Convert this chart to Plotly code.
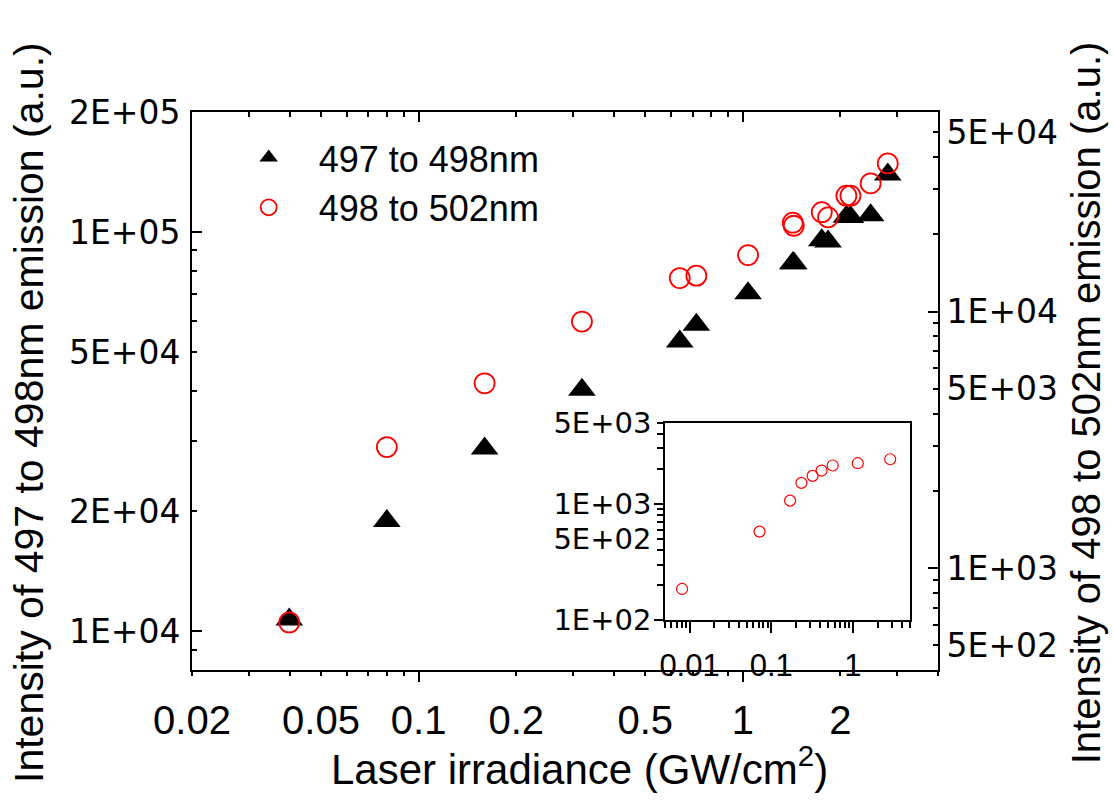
import math
import plotly.graph_objects as go

# ---------------- data ----------------
irradiance = [0.0399, 0.0798, 0.1598, 0.319, 0.639, 0.719, 1.038, 1.426, 1.436,
              1.752, 1.832, 2.087, 2.148, 2.479, 2.80]
i_497_498 = [10700, 18900, 28700, 40300, 53200, 58600, 70300, 83600, 83600,
             95500, 94800, 109300, 109200, 110300, 139500]
i_498_502 = [613, 2960, 5250, 9140, 13500, 13800, 16600, 22200, 21600,
             24400, 23300, 28300, 28300, 31600, 37800]

inset_irradiance = [0.0081, 0.0719, 0.170, 0.234, 0.321, 0.413, 0.565, 1.146, 2.86]
inset_intensity = [185, 577, 1067, 1517, 1743, 1936, 2139, 2240, 2422]

x_tick_vals = [0.02, 0.05, 0.1, 0.2, 0.5, 1, 2]
x_tick_text = ["0.02", "0.05", "0.1", "0.2", "0.5", "1", "2"]
yl_tick_vals = [1e4, 2e4, 5e4, 1e5, 2e5]
yr_tick_vals = [5e2, 1e3, 5e3, 1e4, 5e4]
inset_x_vals = [0.01, 0.1, 1]
inset_x_text = ["0.01", "0.1", "1"]
inset_y_vals = [1e2, 5e2, 1e3, 5e3]

series_names = ["497 to 498nm", "498 to 502nm"]

# ---------------- helpers ----------------
def etext(vals):
    return [format(v, ".0E") for v in vals]

def log_grid(lo, hi):
    out = []
    for e in range(-4, 7):
        for m in range(1, 10):
            v = m * 10.0 ** e
            if lo * 0.999 <= v <= hi * 1.001:
                out.append(float("%.6g" % v))
    return out

def minus(a, b):
    return [v for v in a if all(abs(v - w) / w > 1e-6 for w in b)]

def decades(vals):
    return [v for v in vals if abs(math.log10(v) - round(math.log10(v))) < 1e-6]

LF = "Liberation Sans, Arial, sans-serif"
DF = "DejaVu Sans, sans-serif"
K = "black"

XR = (0.02, 4.0)
YLR = (8000, 2e5)
YRR = (400, 6e4)
IXR = (0.005, 5.0)
IYR = (100, 5000)

def lr(r):
    return [math.log10(r[0]), math.log10(r[1])]

x_all = log_grid(*XR)
yl_all = log_grid(*YLR)
yr_all = log_grid(*YRR)
ix_all = log_grid(*IXR)
iy_all = log_grid(*IYR)

fig = go.Figure()

# main data
fig.add_trace(go.Scatter(
    x=irradiance, y=i_497_498, mode="markers", name="\u00a0\u00a0\u00a0" + series_names[0],
    marker=dict(symbol="triangle-up", size=24, color=K, line=dict(width=0)),
    xaxis="x", yaxis="y"))
fig.add_trace(go.Scatter(
    x=irradiance, y=i_498_502, mode="markers", name="\u00a0\u00a0\u00a0" + series_names[1],
    marker=dict(symbol="circle-open", size=20, color="#ff0000", line=dict(width=1.8, color="#ff0000")),
    xaxis="x", yaxis="y2"))

# inset data
fig.add_trace(go.Scatter(
    x=inset_irradiance, y=inset_intensity, mode="markers", showlegend=False,
    marker=dict(symbol="circle-open", size=11, color="#ff0000", line=dict(width=1.2, color="#ff0000")),
    xaxis="x2", yaxis="y3"))

# invisible helpers so the tick-only overlay axes are drawn
for xa, ya in [("x3", "y"), ("x4", "y"), ("x", "y4"), ("x", "y5"), ("x2", "y6")]:
    fig.add_trace(go.Scatter(x=irradiance, y=i_497_498, mode="markers", showlegend=False,
                             hoverinfo="skip", marker=dict(opacity=0), xaxis=xa, yaxis=ya))

common = dict(type="log", showgrid=False, zeroline=False, tickcolor=K, tickwidth=1.5)

fig.update_layout(
    width=1114, height=803,
    margin=dict(l=192, r=176, t=112, b=133),
    paper_bgcolor="white", plot_bgcolor="white",
    font=dict(family=LF, color=K),
    showlegend=True,
    legend=dict(x=0.076, y=0.972, xanchor="left", yanchor="top",
                font=dict(family=LF, size=36, color=K), bgcolor="rgba(0,0,0,0)",
                itemclick=False),
    # main bottom x
    xaxis=dict(**common, range=lr(XR), domain=[0, 1], anchor="y",
               showline=True, linewidth=2, linecolor=K, mirror=True,
               ticks="outside", ticklen=4, tickmode="array",
               tickvals=x_tick_vals, ticktext=x_tick_text,
               tickfont=dict(family=LF, size=40, color=K), ticklabelstandoff=10,
               minor=dict(tickmode="array", tickvals=minus(x_all, x_tick_vals),
                          ticks="outside", ticklen=4, tickwidth=1.5, tickcolor=K)),
    # top ticks (inside)
    xaxis3=dict(**common, range=lr(XR), overlaying="x", side="top", anchor="y",
                showline=False, showticklabels=False, ticks="inside", ticklen=10,
                tickmode="array", tickvals=decades(x_all),
                minor=dict(tickmode="array", tickvals=minus(x_all, decades(x_all)),
                           ticks="inside", ticklen=5, tickwidth=1.5, tickcolor=K)),
    # long decade ticks at bottom
    xaxis4=dict(**common, range=lr(XR), overlaying="x", side="bottom", anchor="y",
                showline=False, showticklabels=False, ticks="outside", ticklen=11,
                tickmode="array", tickvals=decades(x_all)),
    # left y
    yaxis=dict(**common, range=lr(YLR), domain=[0, 1], anchor="x", side="left",
               showline=True, linewidth=2, linecolor=K, mirror=False,
               ticks="inside", ticklen=5, tickmode="array",
               tickvals=yl_tick_vals, ticktext=etext(yl_tick_vals),
               tickfont=dict(family=DF, size=33, color=K), ticklabelstandoff=3,
               minor=dict(tickmode="array", tickvals=minus(yl_all, yl_tick_vals),
                          ticks="inside", ticklen=5, tickwidth=1.5, tickcolor=K)),
    yaxis4=dict(**common, range=lr(YLR), overlaying="y", side="left", anchor="x",
                showline=False, showticklabels=False, ticks="inside", ticklen=10,
                tickmode="array", tickvals=decades(yl_all)),
    # right y
    yaxis2=dict(**common, range=lr(YRR), overlaying="y", side="right", anchor="x",
                showline=True, linewidth=2, linecolor=K,
                ticks="inside", ticklen=5, tickmode="array",
                tickvals=yr_tick_vals, ticktext=etext(yr_tick_vals),
                tickfont=dict(family=DF, size=33, color=K),
                minor=dict(tickmode="array", tickvals=minus(yr_all, yr_tick_vals),
                           ticks="inside", ticklen=5, tickwidth=1.5, tickcolor=K)),
    yaxis5=dict(**common, range=lr(YRR), overlaying="y", side="right", anchor="x",
                showline=False, showticklabels=False, ticks="inside", ticklen=10,
                tickmode="array", tickvals=decades(yr_all)),
    # inset
    xaxis2=dict(**common, range=lr(IXR), domain=[0.634, 0.9625], anchor="y3",
                showline=True, linewidth=1.5, linecolor=K, mirror=True,
                ticks="outside", ticklen=11, tickmode="array",
                tickvals=inset_x_vals, ticktext=inset_x_text,
                tickfont=dict(family=LF, size=31, color=K), ticklabelstandoff=6,
                minor=dict(tickmode="array", tickvals=minus(ix_all, inset_x_vals),
                           ticks="outside", ticklen=6, tickwidth=1.5, tickcolor=K)),
    yaxis3=dict(**common, range=lr(IYR), domain=[0.0896, 0.4432], anchor="x2",
                showline=True, linewidth=1.5, linecolor=K, mirror=True,
                ticks="outside", ticklen=6, tickmode="array",
                tickvals=inset_y_vals, ticktext=etext(inset_y_vals),
                tickfont=dict(family=DF, size=29, color=K),
                minor=dict(tickmode="array", tickvals=minus(iy_all, inset_y_vals),
                           ticks="outside", ticklen=6, tickwidth=1.5, tickcolor=K)),
    yaxis6=dict(**common, range=lr(IYR), overlaying="y3", side="left", anchor="x2",
                showline=False, showticklabels=False, ticks="outside", ticklen=10,
                tickmode="array", tickvals=decades(iy_all)),
)

fig.add_annotation(text="Laser irradiance (GW/cm<sup>2</sup>)", xref="paper", yref="paper",
                   x=0.52, y=-0.172, xanchor="center", yanchor="middle", showarrow=False,
                   font=dict(family=LF, size=42, color=K))
fig.add_annotation(text="Intensity of 497 to 498nm emission (a.u.)", xref="paper", yref="paper",
                   x=-0.2185, y=0.4624, xanchor="center", yanchor="middle", showarrow=False,
                   textangle=-90, font=dict(family=LF, size=41, color=K))
fig.add_annotation(text="Intensity of 498 to 502nm emission (a.u.)", xref="paper", yref="paper",
                   x=1.1984, y=0.478, xanchor="center", yanchor="middle", showarrow=False,
                   textangle=-90, font=dict(family=LF, size=40, color=K))

fig.write_html("out.html")
